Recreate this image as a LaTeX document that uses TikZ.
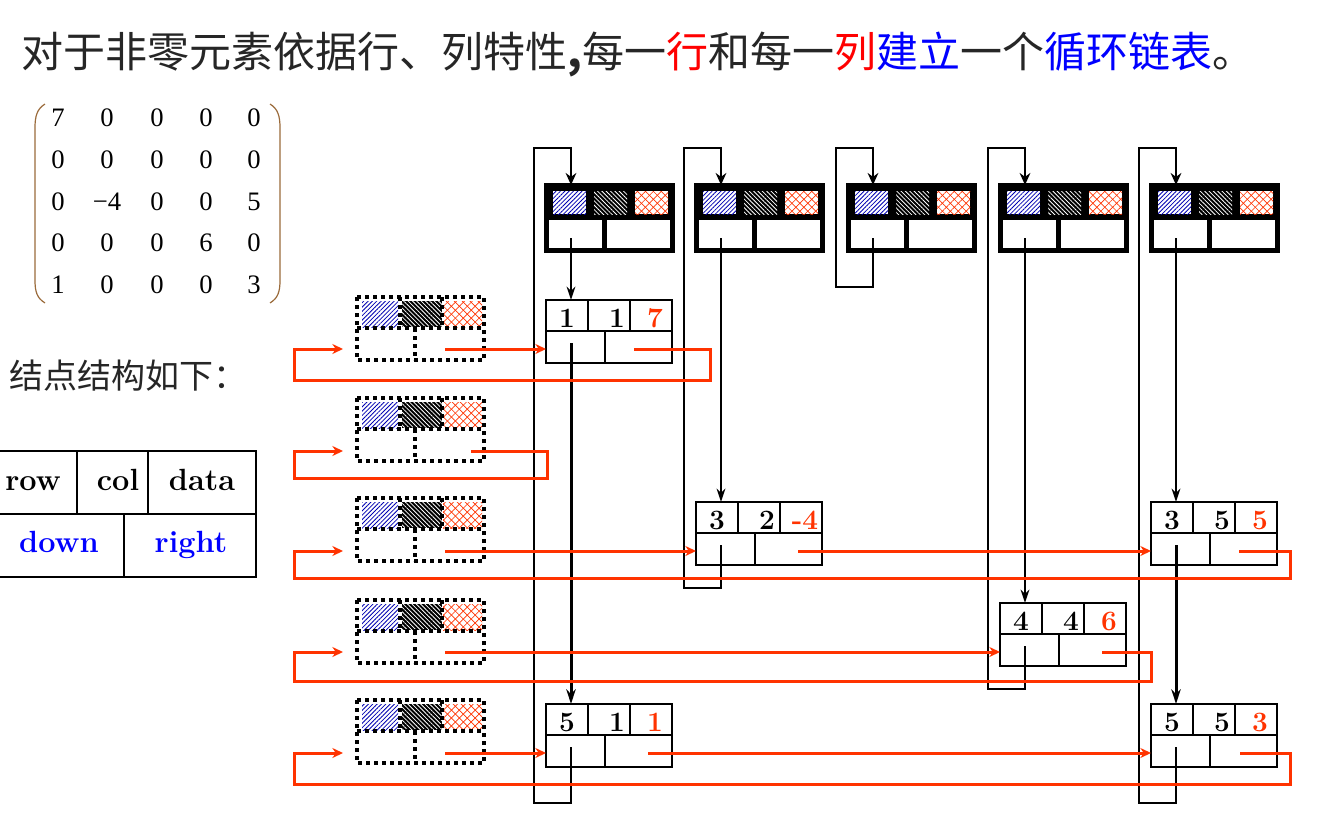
\documentclass[tikz,border=0pt]{standalone}
\usepackage{fontspec}
\newfontfamily\cjk{Noto Sans CJK SC}
\newfontfamily\tms{Liberation Serif}
\usetikzlibrary{arrows.meta,patterns.meta,calc}
\definecolor{lred}{HTML}{FF3300}
\definecolor{tred}{HTML}{FF0000}
\definecolor{tblue}{HTML}{0000FF}
\definecolor{titlec}{HTML}{262626}
\definecolor{brk}{HTML}{9A6A3A}
\tikzset{
 recbox/.style={draw, line width=1.5pt, fill=white, minimum width=94.5pt, minimum height=47.25pt, inner sep=0pt, outer sep=0pt, anchor=north west},
 hdrbox/.style={draw, line width=3.75pt, fill=white, minimum width=94.5pt, minimum height=48.75pt, inner sep=0pt, outer sep=0pt, anchor=north west},
 holder/.style={inner sep=0pt, outer sep=0pt, minimum width=95.25pt, minimum height=47.25pt, anchor=north west},
 cellline/.style={line width=1.5pt},
 hline/.style={line width=3.75pt},
 dotline/.style={line width=3pt, dash pattern=on 3pt off 3pt},
 num/.style={font=\fontsize{21}{21}\selectfont\bfseries, inner sep=0pt, anchor=base},
 dnum/.style={num, text=lred},
 mnum/.style={font=\tms\fontsize{20}{20}\selectfont, inner sep=0pt, anchor=base},
 tbltxt/.style={font=\fontsize{23}{23}\selectfont\bfseries, inner sep=0pt, anchor=base},
 loopline/.style={line width=1.5pt, -{Stealth[length=9pt,width=8pt]}},
 hdarrow/.style={line width=1.5pt, -{Stealth[length=10pt,width=6.5pt]}},
 dnarrow/.style={line width=2.25pt, -{Stealth[length=11pt,width=7pt]}},
 rowlink/.style={draw=lred, line width=2.25pt, -{Stealth[length=8pt,width=7.5pt]}},
 patB/.style={pattern={Lines[angle=45,distance=2.3pt,line width=0.6pt]}, pattern color=blue!70!black},
 patW/.style={pattern={Lines[angle=-45,distance=2.3pt,line width=0.6pt]}, pattern color=white},
 patRa/.style={pattern={Lines[angle=45,distance=4.2pt,line width=0.5pt]}, pattern color=lred},
 patRb/.style={pattern={Lines[angle=-45,distance=4.2pt,line width=0.5pt]}, pattern color=lred},
}
% record node: name, x0, y0, row, col, data, right-start offset
\newcommand\rec[7]{%
 \node[recbox] (#1) at (#2,#3) {};
 \draw[cellline] (#2,#3+31) -- (#2+126,#3+31)
   (#2+42,#3) -- (#2+42,#3+31) (#2+84,#3) -- (#2+84,#3+31)
   (#2+59,#3+31) -- (#2+59,#3+63);
 \node[num] (#1-row) at (#2+21,#3+27) {#4};
 \node[num] (#1-col) at (#2+71,#3+27) {#5};
 \node[dnum] (#1-dat) at (#2+109,#3+27) {#6};
 \coordinate (#1-d) at (#2+25,#3+43);
 \coordinate (#1-r) at (#2+#7,#3+49);
}
% column header: name, x0
\newcommand\hdr[2]{%
 \node[hdrbox] (#1) at (#2,185) {};
 \fill[black] (#2,185) rectangle (#2+126,220);
 \draw[hline] (#2+58,220) -- (#2+58,250);
 \fill[white] (#2+7,191) rectangle (#2+40,214);
 \path[patB] (#2+7,191) rectangle (#2+40,214);
 \path[patW] (#2+48,191) rectangle (#2+81,214);
 \fill[white] (#2+89,191) rectangle (#2+122,214);
 \path[patRa] (#2+89,191) rectangle (#2+122,214);
 \path[patRb] (#2+89,191) rectangle (#2+122,214);
 \draw[hline] (#1.north west) rectangle (#1.south east);
 \coordinate (#1-d) at (#2+25,238);
}
% row header: name, y0, link y, right-start x
\newcommand\rhdr[4]{%
 \node[holder] (#1) at (357,#2) {};
 \fill[white] (362,#2+4) rectangle (398,#2+30);
 \path[patB] (362,#2+4) rectangle (398,#2+30);
 \fill[black] (402,#2+4) rectangle (442,#2+30);
 \path[patW] (402,#2+4) rectangle (442,#2+30);
 \fill[white] (443,#2+4) rectangle (482,#2+30);
 \path[patRa] (443,#2+4) rectangle (482,#2+30);
 \path[patRb] (443,#2+4) rectangle (482,#2+30);
 \draw[dotline] (357,#2) rectangle (484,#2+63);
 \draw[dotline] (357,#2+31) -- (484,#2+31) (400,#2) -- (400,#2+31)
   (442,#2) -- (442,#2+31) (415,#2+31) -- (415,#2+63);
 \coordinate (#1-r) at (#4,#3);
 \coordinate (#1-in) at (343,#3);
}
\begin{document}
\begin{tikzpicture}[x=0.75pt,y=-0.75pt]
\useasboundingbox (0,0) rectangle (1321,821);
% title
\node[anchor=base west, inner sep=0pt, font=\cjk\fontsize{31.5}{31.5}\selectfont, text=titlec] (title) at (21,67)
 {对于非零元素依据行、列特性{\bfseries,}每一{\color{tred}行}和每一{\color{tred}列}{\color{tblue}建立}一个{\color{tblue}循环链表}。};
% matrix
\draw[brk, line width=0.9pt] (45,104) .. controls (37,109) and (35,116) .. (35,128) -- (35,280) .. controls (35,292) and (37,298) .. (45,303);
\draw[brk, line width=0.9pt] (270,104) .. controls (278,109) and (280,116) .. (280,128) -- (280,280) .. controls (280,292) and (278,298) .. (270,303);
\foreach \x/\y/\v [count=\k] in {
 58/126/7, 107/126/0, 157/126/0, 206/126/0, 254/126/0,
 58/168/0, 107/168/0, 157/168/0, 206/168/0, 254/168/0,
 58/210/0, 107/210/−4, 157/210/0, 206/210/0, 254/210/5,
 58/251/0, 107/251/0, 157/251/0, 206/251/6, 254/251/0,
 58/293/1, 107/293/0, 157/293/0, 206/293/0, 254/293/3}
 \node[mnum] (m\k) at (\x,\y) {\v};
% label
\node[anchor=base west, inner sep=0pt, font=\cjk\fontsize{25.5}{25.5}\selectfont, text=titlec] (lbl) at (9,388) {结点结构如下：};
% structure table
\node[draw, line width=1.5pt, minimum width=194.25pt, minimum height=94.5pt, inner sep=0pt, outer sep=0pt, anchor=north west] (tbl) at (-3,451) {};
\draw[cellline] (-3,514) -- (256,514) (77,451) -- (77,514) (148,451) -- (148,514) (124,514) -- (124,577);
\node[tbltxt] (t-row) at (33,490) {row};
\node[tbltxt] (t-col) at (118,490) {col};
\node[tbltxt] (t-data) at (202,490) {data};
\node[tbltxt, text=tblue] (t-down) at (59,552) {down};
\node[tbltxt, text=tblue] (t-right) at (191,552) {right};
% column headers
\hdr{h1}{546}
\hdr{h2}{696}
\hdr{h3}{848}
\hdr{h4}{1000}
\hdr{h5}{1151}
% row headers
\rhdr{r1}{297}{349}{445}
\rhdr{r2}{398}{451}{471}
\rhdr{r3}{498}{551}{445}
\rhdr{r4}{600}{652}{445}
\rhdr{r5}{700}{753}{445}
% nodes
\rec{n11}{546}{300}{1}{1}{7}{88}
\rec{n32}{696}{502}{3}{2}{-4}{102}
\rec{n35}{1151}{502}{3}{5}{5}{88}
\rec{n44}{1000}{603}{4}{4}{6}{102}
\rec{n51}{546}{704}{5}{1}{1}{102}
\rec{n55}{1151}{704}{5}{5}{3}{89}
% column loops
\draw[loopline] (n51-d) -- (571,803) -- (534,803) -- (534,148) -- (571,148) -- (h1.north -| n51-d);
\draw[loopline] (n32-d) -- (721,588) -- (684,588) -- (684,148) -- (721,148) -- (h2.north -| n32-d);
\draw[loopline] (h3-d) -- (873,287) -- (836,287) -- (836,148) -- (873,148) -- (h3.north -| h3-d);
\draw[loopline] (n44-d) -- (1025,689) -- (988,689) -- (988,148) -- (1025,148) -- (h4.north -| n44-d);
\draw[loopline] (n55-d) -- (1176,803) -- (1139,803) -- (1139,148) -- (1176,148) -- (h5.north -| n55-d);
% header down pointers
\draw[hdarrow] (h1-d) -- (n11.north -| h1-d);
\draw[hdarrow] (h2-d) -- (n32.north -| h2-d);
\draw[hdarrow] (h4-d) -- (n44.north -| h4-d);
\draw[hdarrow] (h5-d) -- (n35.north -| h5-d);
% node down pointers
\draw[dnarrow] (n11-d) -- (n51.north -| n11-d);
\draw[dnarrow] (n35-d) -- (n55.north -| n35-d);
% row links
\draw[rowlink] (r1-r) -- (n11.west |- r1-r);
\draw[rowlink] (n11-r) -- (710,349) -- (710,380) -- (294,380) -- (294,349) -- (r1-in);
\draw[rowlink] (r2-r) -- (547,451) -- (547,478) -- (294,478) -- (294,451) -- (r2-in);
\draw[rowlink] (r3-r) -- (n32.west |- r3-r);
\draw[rowlink] (n32-r) -- (n35.west |- n32-r);
\draw[rowlink] (n35-r) -- (1290,551) -- (1290,578) -- (294,578) -- (294,551) -- (r3-in);
\draw[rowlink] (r4-r) -- (n44.west |- r4-r);
\draw[rowlink] (n44-r) -- (1151,652) -- (1151,681) -- (294,681) -- (294,652) -- (r4-in);
\draw[rowlink] (r5-r) -- (n51.west |- r5-r);
\draw[rowlink] (n51-r) -- (n55.west |- n51-r);
\draw[rowlink] (n55-r) -- (1290,753) -- (1290,784) -- (294,784) -- (294,753) -- (r5-in);
\end{tikzpicture}
\end{document}
